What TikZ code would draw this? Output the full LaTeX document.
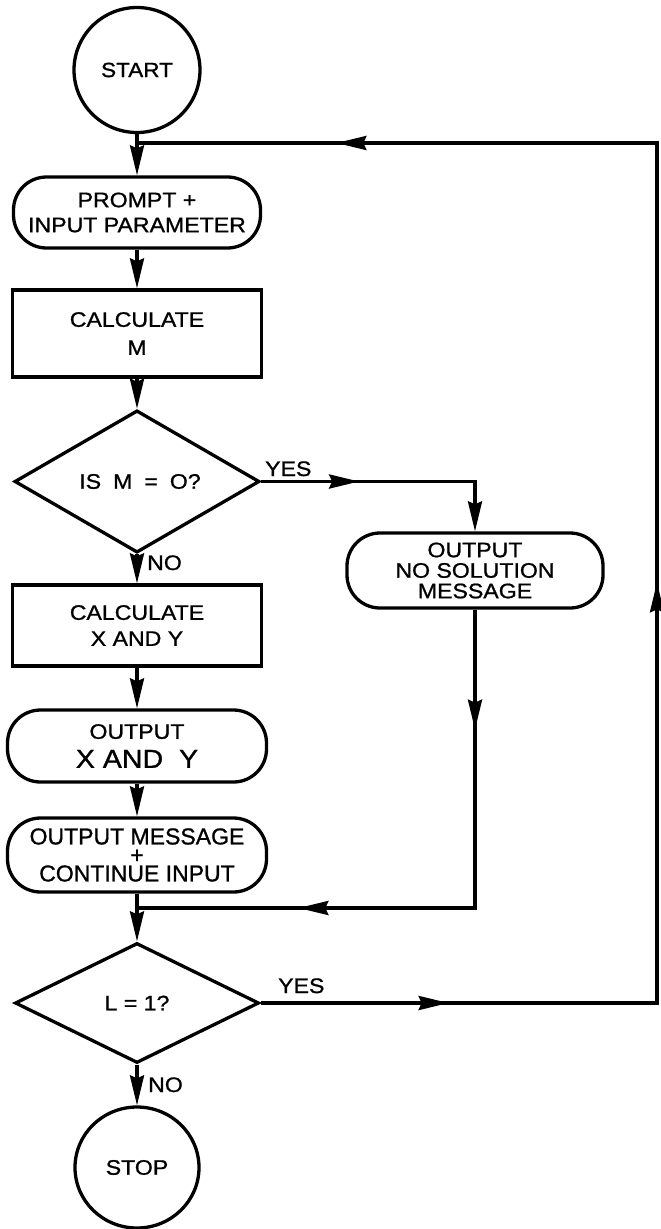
\documentclass[tikz,border=0pt]{standalone}
\usepackage{fontspec}
\setmainfont[FakeStretch=1.1,FakeBold=1]{Liberation Sans}
\newfontfamily\narrowfont[FakeBold=1]{Liberation Sans}
\usetikzlibrary{shapes.geometric,arrows.meta,decorations.markings}
\newcommand\tightlines{\lineskiplimit=-100pt\relax\lineskip=0pt\relax}
\begin{document}
\begin{tikzpicture}[x=1pt,y=-1pt,
  ln/.style={line width=3.3pt},
  tipend/.style={-{Stealth[length=30pt,width=14pt,inset=3pt]}},
  basebox/.style={draw, line width=3.3pt, inner sep=0pt, align=center,
    font=\fontsize{21}{25}\selectfont},
  rectbox/.style={basebox, rectangle},
  stadium/.style={basebox, rectangle, rounded corners=33pt},
  decision/.style={basebox, diamond},
  terminal/.style={basebox, ellipse},
  lbl/.style={inner sep=0pt, font=\fontsize{21}{25}\selectfont},
  midtips/.style={postaction={decorate}, decoration={markings, #1}}
]
\useasboundingbox (0,0) rectangle (661,1229);

% nodes
\node[terminal, minimum width=126pt, minimum height=125pt, font=\fontsize{20.5}{24}\selectfont] (start) at (137,70) {START};
\node[stadium, minimum width=247pt, minimum height=71pt] (prompt) at (137,212.5) {PROMPT +\\INPUT PARAMETER};
\node[rectbox, minimum width=249pt, minimum height=87pt, font=\fontsize{21}{28}\selectfont] (calcM) at (137,333.5) {CALCULATE\\M};
\node[decision, minimum width=245pt, minimum height=123pt] (isM) at (137,481.5) {\hspace{6pt}IS\hspace{12pt}M\hspace{12pt}=\hspace{12pt}O?};
\node[stadium, minimum width=256pt, minimum height=75pt,
  font=\fontsize{21}{20.5}\selectfont\tightlines] (nosol) at (475,570.5) {OUTPUT\\NO SOLUTION\\MESSAGE};
\node[rectbox, minimum width=249pt, minimum height=81pt, font=\fontsize{21}{26}\selectfont] (calcXY) at (137,625.5) {CALCULATE\\X AND Y};
\node[stadium, minimum width=259pt, minimum height=72pt, font=\fontsize{21}{29}\selectfont] (outXY) at (137,746) {OUTPUT\\{\fontsize{26}{29}\selectfont X AND\ \ Y}};
\node[stadium, minimum width=259pt, minimum height=74pt,
  font=\narrowfont\fontsize{23}{18.5}\selectfont\tightlines] (outMsg) at (137,855) {OUTPUT MESSAGE\\{\fontsize{23}{18.5}\selectfont +}\\CONTINUE INPUT};
\node[decision, minimum width=244pt, minimum height=120pt] (L1) at (137,1003) {L = 1?};
\node[terminal, minimum width=124pt, minimum height=121pt] (stop) at (137,1167.5) {STOP};

\coordinate (merge) at (137,908);
\coordinate (loopin) at (137,143);
\coordinate (rb) at (657,1003);
\coordinate (rt) at (657,143);
\coordinate (nb) at (475,908);

% labels
\node[lbl, anchor=base west] (yes1) at (265,476) {YES};
\node[lbl, anchor=base west] (no1) at (147,570) {NO};
\node[lbl, anchor=base west] (yes2) at (278,993) {YES};
\node[lbl, anchor=base west] (no2) at (148,1092) {NO};

% main column
\draw[ln, tipend] (start) -- (prompt);
\draw[ln, tipend] (prompt) -- (calcM);
\draw[ln, tipend] (calcM) -- (isM);
\draw[ln, tipend] (isM) -- (calcXY);
\draw[ln, tipend] (calcXY) -- (outXY);
\draw[ln, tipend] (outXY) -- (outMsg);
\draw[ln, tipend] (outMsg) -- (L1);
\draw[ln, tipend] (L1) -- (stop);

% yes branch of IS M = O?
\draw[ln, tipend, midtips={mark=at position 98pt with {\arrow{Stealth[length=30pt,width=14pt,inset=3pt]}}}]
  (isM.east) -| (nosol.north);

% no-solution back to merge
\draw[ln, midtips={mark=at position 120pt with {\arrow{Stealth[length=30pt,width=14pt,inset=3pt]}},
                   mark=at position 475pt with {\arrow{Stealth[length=30pt,width=14pt,inset=3pt]}}}]
  (nosol.south) -- (nb) -- (merge);

% loop back
\draw[ln, midtips={mark=at position 188pt with {\arrow{Stealth[length=30pt,width=14pt,inset=3pt]}},
                   mark=at position 817pt with {\arrow{Stealth[length=30pt,width=14pt,inset=3pt]}},
                   mark=at position 1577pt with {\arrow{Stealth[length=30pt,width=14pt,inset=3pt]}}}]
  (L1.east) -- (rb) -- (rt) -- (loopin);
\end{tikzpicture}
\end{document}
